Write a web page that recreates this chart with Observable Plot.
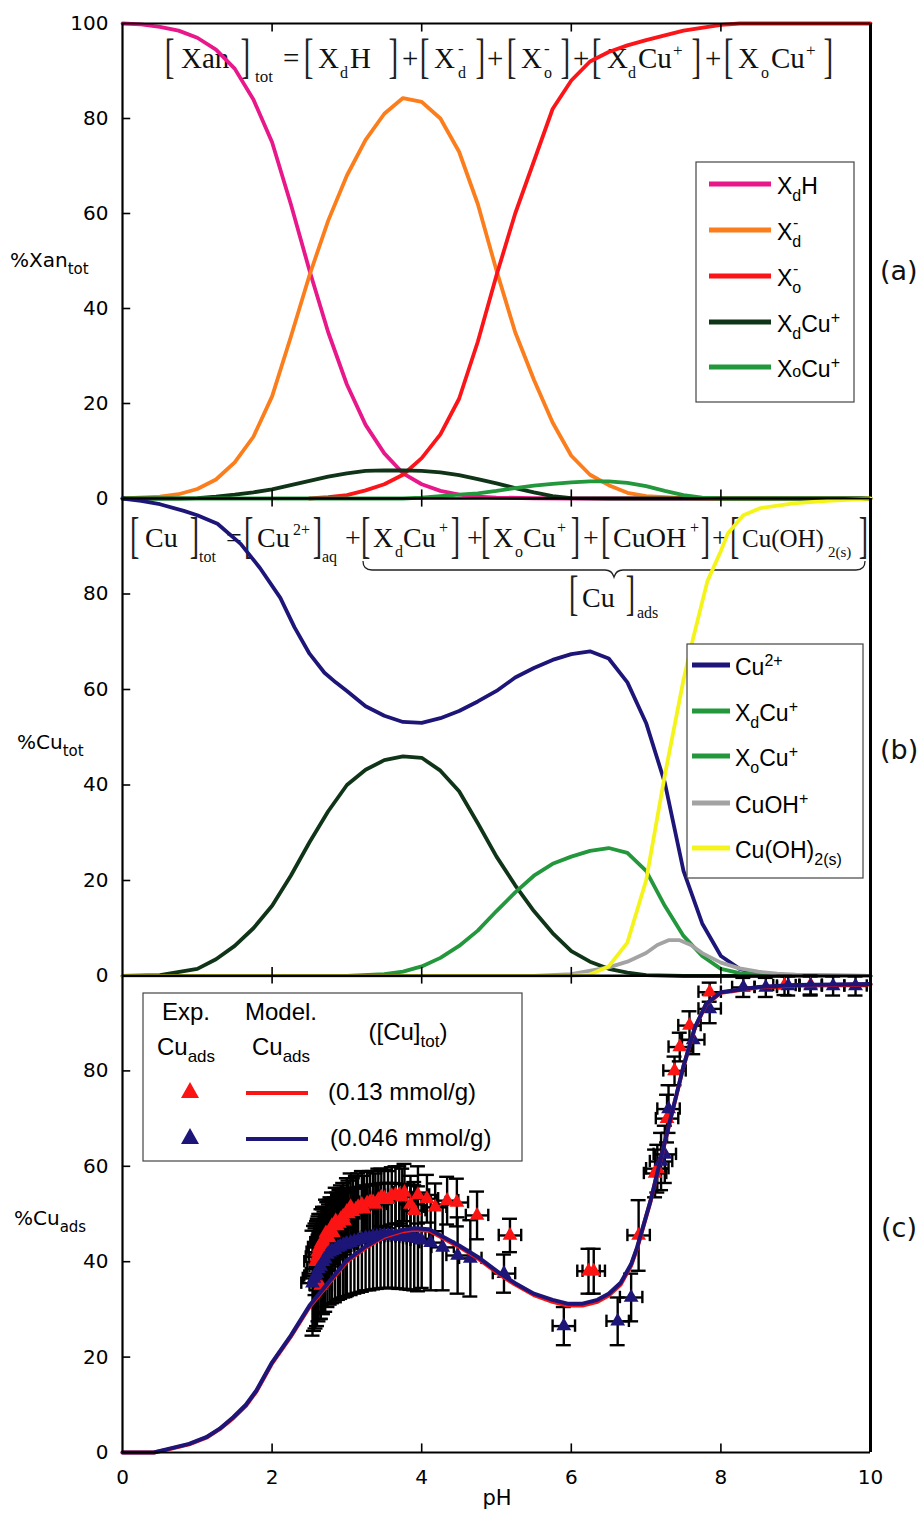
<!DOCTYPE html>
<html><head><meta charset="utf-8">
<script src="https://cdn.jsdelivr.net/npm/d3@7"></script>
<script src="https://cdn.jsdelivr.net/npm/@observablehq/plot@0.6"></script>
<style>
body{margin:0;background:#fff;}
#wrap{position:relative;width:922px;height:1517px;overflow:hidden;background:#fff;}
</style></head><body><div id="wrap"></div>
<script>
// ---------- DATA ----------
const xTickLabels = [0,2,4,6,8,10];
const xInnerTicks = [2,4,6,8];
const yTicksA = [0,20,40,60,80,100];
const yTicksBC = [0,20,40,60,80];
const yInnerTicks = [20,40,60,80];

// panel (a) : % of total xanthate
const aXdH = [[0,100],[0.25,99.8],[0.5,99.3],[0.75,98.5],[1,97],[1.25,94.5],[1.5,90.5],[1.75,84],[2,75],[2.25,62],[2.5,48],[2.75,35],[3,24],[3.25,15.5],[3.5,9.5],[3.75,5.3],[4,3],[4.25,1.6],[4.5,0.8],[4.75,0.4],[5,0.2],[5.5,0.05],[6,0],[10,0]];
const aXd = [[0,0],[0.5,0.4],[0.75,0.9],[1,2],[1.25,4],[1.5,7.6],[1.75,13],[2,21.5],[2.25,34],[2.5,47],[2.75,58.5],[3,68],[3.25,75.5],[3.5,81],[3.75,84.3],[4,83.5],[4.25,80],[4.5,73],[4.75,62],[5,48],[5.25,35],[5.5,25],[5.75,16],[6,9],[6.25,5],[6.5,2.8],[6.75,1.2],[7,0.5],[7.5,0.1],[8,0],[10,0]];
const aXo = [[2.5,0],[2.75,0.3],[3,0.7],[3.25,1.7],[3.5,3],[3.75,5],[4,8.5],[4.25,13.5],[4.5,21],[4.75,33],[5,47],[5.25,60],[5.5,71],[5.75,82],[6,88],[6.25,92],[6.5,94],[6.75,95.4],[7,96.5],[7.5,98.5],[8,99.7],[8.25,100],[10,100]];
const aXdCu = [[0,0],[0.75,0],[1,0.1],[1.25,0.4],[1.5,0.8],[1.75,1.3],[2,1.9],[2.25,2.8],[2.5,3.7],[2.75,4.6],[3,5.3],[3.25,5.8],[3.5,5.9],[3.75,5.9],[4,5.8],[4.25,5.5],[4.5,4.9],[4.75,4.1],[5,3.2],[5.25,2.2],[5.5,1.3],[5.75,0.5],[6,0.1],[6.5,0],[10,0]];
const aXoCu = [[0,0],[3.75,0],[4,0.2],[4.25,0.5],[4.5,0.8],[4.75,1.1],[5,1.6],[5.25,2.2],[5.5,2.7],[5.75,3.1],[6,3.4],[6.25,3.6],[6.5,3.6],[6.75,3.3],[7,2.6],[7.25,1.6],[7.5,0.7],[7.75,0.2],[8,0],[10,0]];

// panel (b) : % of total copper
const bCu = [[0,100],[0.25,99.5],[0.5,98.8],[0.82,97.4],[1,96.5],[1.27,94.7],[1.58,90.5],[1.84,85.4],[2.11,79.2],[2.3,73],[2.5,67.5],[2.7,63.5],[2.85,61.5],[3,59.7],[3.25,56.5],[3.5,54.5],[3.75,53.2],[4,53],[4.25,54],[4.5,55.5],[4.75,57.5],[5,59.7],[5.25,62.5],[5.5,64.5],[5.75,66.2],[6,67.4],[6.25,68],[6.5,66.5],[6.75,61.5],[7,53],[7.25,40.5],[7.5,22],[7.75,11],[8,4.2],[8.25,1.5],[8.5,0.5],[9,0.1],[10,0]];
const bXdCu = [[0,0],[0.5,0.2],[1,1.5],[1.25,3.5],[1.5,6.3],[1.75,10],[2,14.7],[2.25,21],[2.5,28],[2.75,34.5],[3,40],[3.25,43.2],[3.5,45.2],[3.75,46],[4,45.7],[4.25,43],[4.5,38.7],[4.75,32],[5,25],[5.25,19],[5.5,13.6],[5.75,9],[6,5.2],[6.25,3],[6.5,1.5],[6.75,0.7],[7,0.2],[7.5,0],[10,0]];
const bXoCu = [[0,0],[3,0],[3.5,0.4],[3.75,0.9],[4,2],[4.25,3.8],[4.5,6.3],[4.75,9.5],[5,13.6],[5.25,17.5],[5.5,21],[5.75,23.5],[6,25],[6.25,26.2],[6.5,26.8],[6.75,25.8],[7,22],[7.25,14.7],[7.5,8.4],[7.75,4.2],[8,1.5],[8.25,0.6],[8.5,0.3],[9,0],[10,0]];
const bCuOH = [[0,0],[5.5,0],[6,0.4],[6.5,1.8],[6.75,3],[7,4.8],[7.15,6.5],[7.3,7.5],[7.45,7.5],[7.6,6.5],[7.75,4.8],[8,2.8],[8.25,1.6],[8.5,0.9],[8.75,0.5],[9,0.3],[9.5,0.1],[10,0]];
const bCuOH2 = [[0,0],[6,0],[6.25,0.3],[6.5,2],[6.75,7],[7,20],[7.25,42],[7.5,62],[7.63,70.8],[7.82,82.7],[8,89],[8.09,92.6],[8.3,96.5],[8.53,98],[8.97,99],[9.42,99.5],[10,100]];

// panel (c) : % adsorbed copper, model curves
const cModelHigh = [[0,0],[0.42,0],[0.6,0.6],[0.89,1.7],[1.12,3.1],[1.3,4.9],[1.48,7.2],[1.65,9.8],[1.79,12.8],[2,18.7],[2.25,24.3],[2.5,30.5],[2.75,35.3],[3,40],[3.25,42.9],[3.5,45.2],[3.75,46.4],[3.9,46.7],[4.1,46.5],[4.5,43.1],[4.75,40.7],[5.05,37.2],[5.25,35.2],[5.5,33],[5.75,31.6],[5.95,30.8],[6.15,30.8],[6.35,31.6],[6.5,32.9],[6.66,35.2],[6.8,39.2],[6.88,42.8],[7.06,52.7],[7.19,61.1],[7.33,70.1],[7.5,80.9],[7.65,88.9],[7.8,93.9],[8,96.4],[8.5,97.5],[9,97.9],[10,98.1]];
const cModelLow = [[0,0],[0.42,0],[0.6,0.7],[0.89,1.8],[1.12,3.2],[1.3,5],[1.48,7.4],[1.65,10],[1.79,13],[2,18.9],[2.25,24.5],[2.5,30.8],[2.75,35.6],[3,40.3],[3.25,43.2],[3.5,45.5],[3.75,46.7],[3.9,47],[4.1,46.8],[4.5,43.4],[4.75,41],[5.05,37.5],[5.25,35.5],[5.5,33.3],[5.75,32],[5.95,31.2],[6.15,31.2],[6.35,32],[6.5,33.3],[6.66,35.6],[6.8,39.5],[6.88,43],[7.06,52.8],[7.19,61.2],[7.33,70.2],[7.5,81],[7.65,89],[7.8,94],[8,96.5],[8.5,97.6],[9,98],[10,98.2]];
// experimental points: [pH, %Cu_ads, error]
const cExpHigh = [[2.58,40,7],[2.60,41,7],[2.61,42,7],[2.63,43,7],[2.64,41.5,7],[2.65,35,7],[2.66,44,7],[2.68,44.5,7],[2.70,43.5,7],[2.72,46,7],[2.74,45.5,7],[2.76,45,7],[2.78,46.5,7],[2.80,47.5,7],[2.82,46,7],[2.85,48.5,7],[2.87,47.5,7],[2.90,48,7],[2.92,49,7],[2.95,49.5,7],[2.97,48.5,7],[3.00,50.5,7],[3.02,50,7],[3.05,51.5,7],[3.08,50.5,7],[3.12,51,7],[3.15,51.5,7],[3.20,52,7],[3.23,51,7],[3.27,52.3,6.5],[3.31,52.5,6.5],[3.35,52.5,6.5],[3.38,52,6.5],[3.42,53,6.5],[3.46,53.5,6],[3.50,53.3,6],[3.55,53,6],[3.60,53.8,6],[3.65,54,6],[3.70,54,6],[3.74,53.5,6],[3.77,54.5,6],[3.85,52,6],[3.90,50.7,6],[3.95,54,6],[4.07,53.2,5],[4.18,51.4,5],[4.34,52.8,5],[4.47,52.4,5],[4.74,49.7,5],[5.18,45.5,3.5],[6.23,38,4.7],[6.30,38,4.7],[6.90,45.5,7.4],[7.12,58.5,5],[7.15,59.5,5],[7.28,70,5],[7.38,80,3],[7.45,85,3],[7.58,89.5,3],[7.85,96.5,2],[8.85,97.9,2],[9.2,98,2]];
const cExpLow = [[2.54,35.5,11],[2.56,36.5,11],[2.58,37,11],[2.60,37.5,11],[2.62,38.5,11],[2.65,39,11],[2.68,40,11],[2.71,40.5,11],[2.74,41.5,11],[2.77,42,11],[2.80,42.3,11],[2.84,42.5,11],[2.88,43,11],[2.91,43.2,11],[2.95,43.5,11],[2.98,43.6,11],[3.00,43.8,11],[3.05,44,11],[3.10,44.3,11],[3.15,44.5,11],[3.20,44.7,11],[3.25,45,11],[3.30,45,11],[3.35,45.2,11],[3.40,45.3,11],[3.45,45.4,11],[3.50,45.5,11],[3.55,45.5,11],[3.60,45.5,11],[3.65,45.4,11],[3.70,45.3,11],[3.75,45.3,11],[3.80,45.2,11],[3.85,45.1,11],[3.90,45,11],[3.95,44.8,11],[4.00,44.5,10],[4.12,44,10],[4.28,43,9],[4.48,41.3,8],[4.65,40.7,8],[5.10,37.5,4],[5.90,26.5,4],[6.62,27.5,5],[6.80,32.5,5],[7.20,61,6],[7.25,62.5,6],[7.30,72,5],[7.63,86.5,3],[7.85,93,3],[8.3,97.5,2],[8.6,97.5,2],[8.9,97.8,2],[9.2,97.8,2],[9.5,97.8,2],[9.8,97.8,2]];

// ---------- STYLE ----------
const C = {
  XdH:"#e8178a", Xd:"#fb7d1c", Xo:"#fb1418", XdCu:"#0f3417", XoCu:"#23973b",
  Cu:"#1d1678", CuOH:"#a3a3a3", CuOH2:"#f4f41a", red:"#fb1414", navy:"#1d1678"
};
const PAD = 14;
const wrap = d3.select("#wrap");

const under = wrap.append("svg").attr("width",922).attr("height",1517)
  .style("position","absolute").style("left","0px").style("top","0px");

function line(data, color, w=3.8) {
  return Plot.line(data, {x: d=>d[0], y: d=>d[1], stroke: color, strokeWidth: w, strokeLinejoin:"round", strokeLinecap:"round"});
}
function frame(yLabels) {
  return [
    Plot.ruleX(xInnerTicks, {x: d=>d, y1: 0, y2: 1.8, stroke:"#000", strokeWidth:1.6}),
    Plot.ruleX(xInnerTicks, {x: d=>d, y1: 98.2, y2: 100, stroke:"#000", strokeWidth:1.6}),
    Plot.ruleY(yInnerTicks, {y: d=>d, x1: 0, x2: 0.11, stroke:"#000", strokeWidth:1.6}),
    Plot.axisY(yLabels, {anchor:"left", tickSize:0, tickPadding:14, label:null, fontSize:20}),
    Plot.ruleY([0,100], {stroke:"#000", strokeWidth:2}),
    Plot.ruleX([0], {stroke:"#000", strokeWidth:2.2}),
    Plot.ruleX([10], {stroke:"#000", strokeWidth:3})
  ];
}
function panel(top, bottom, marks, showX) {
  const mb = showX ? 1517 - bottom : PAD;
  const svg = Plot.plot({
    width: 922, height: (bottom - top) + PAD + mb,
    marginLeft: 122, marginRight: 52, marginTop: PAD, marginBottom: mb,
    x: {domain:[0,10], axis: null}, y: {domain:[0,100], axis: null},
    style: "background:transparent;overflow:visible;font-family:'DejaVu Sans',sans-serif;font-size:20px;color:#000;",
    marks
  });
  svg.style.position = "absolute";
  svg.style.left = "0px";
  svg.style.top = (top - PAD) + "px";
  svg.style.maxWidth = "none";
  wrap.node().appendChild(svg);
}
function errBars(data) {
  const o = {stroke:"#000", strokeWidth:2.4};
  return [
    Plot.ruleX(data, {x: d=>d[0], y1: d=>d[1]-d[2], y2: d=>d[1]+d[2], ...o}),
    Plot.ruleY(data, {y: d=>d[1]+d[2], x1: d=>d[0]-0.1, x2: d=>d[0]+0.1, ...o}),
    Plot.ruleY(data, {y: d=>d[1]-d[2], x1: d=>d[0]-0.1, x2: d=>d[0]+0.1, ...o}),
    Plot.ruleY(data, {y: d=>d[1], x1: d=>d[0]-0.15, x2: d=>d[0]+0.15, ...o}),
    Plot.ruleX(data, {x: d=>d[0]-0.15, y1: d=>d[1]-1.3, y2: d=>d[1]+1.3, ...o}),
    Plot.ruleX(data, {x: d=>d[0]+0.15, y1: d=>d[1]-1.3, y2: d=>d[1]+1.3, ...o})
  ];
}

// panel (a)
panel(23, 498, [
  line(aXdH, C.XdH), line(aXd, C.Xd), line(aXo, C.Xo), line(aXdCu, C.XdCu), line(aXoCu, C.XoCu),
  ...frame(yTicksA)
], false);
// panel (b)
panel(497.5, 975, [
  line(bCu, C.Cu), line(bXdCu, C.XdCu), line(bXoCu, C.XoCu), line(bCuOH, C.CuOH), line(bCuOH2, C.CuOH2),
  ...frame(yTicksBC)
], false);
// panel (c)
panel(975, 1452, [
  ...errBars(cExpHigh),
  ...errBars(cExpLow),
  Plot.dot(cExpHigh, {x: d=>d[0], y: d=>d[1], symbol:"triangle", r:5.5, fill:C.red, stroke:"none"}),
  Plot.dot(cExpLow, {x: d=>d[0], y: d=>d[1], symbol:"triangle", r:5.5, fill:C.navy, stroke:"none"}),
  line(cModelHigh, C.red, 4), line(cModelLow, C.navy, 4),
  ...frame(yTicksBC),
  Plot.axisX(xTickLabels, {anchor:"bottom", tickSize:0, tickPadding:17, label:null, fontSize:20})
], true);

const over = wrap.append("svg").attr("width",922).attr("height",1517)
  .style("position","absolute").style("left","0px").style("top","0px");

const SERIF = "'Liberation Serif','Times New Roman',serif";
const SANS = "'Liberation Sans',Arial,sans-serif";
const DV = "'DejaVu Sans',sans-serif";

function T(g, x, y, s, size, fam=SERIF) {
  return g.append("text").attr("x",x).attr("y",y).attr("font-family",fam).attr("font-size",size).attr("fill","#111").text(s);
}
function B(g, ch, strokeX, cy, h, size) {
  const off = ch === "[" ? 0.11*size : 0.22*size;
  const x = strokeX - off;
  const s = h / (0.818*size);
  g.append("text").attr("x",x).attr("y",cy + 0.253*size).attr("font-family",SERIF).attr("font-size",size).attr("fill","#222")
    .attr("transform",`translate(0,${cy}) scale(1,${s}) translate(0,${-cy})`).text(ch);
}
function rich(g, x, y, parts, o) {
  const size = o.size, ss = o.ss || Math.round(size*0.68);
  const t = g.append("text").attr("x",x).attr("y",y).attr("font-family",o.family).attr("font-size",size).attr("fill","#000");
  if (o.anchor) t.attr("text-anchor", o.anchor);
  let cur = 0;
  for (const p of parts) {
    const [s, m] = typeof p === "string" ? [p, "n"] : p;
    const shift = m === "b" ? (o.sub ?? size*0.3) : m === "p" ? -(o.sup ?? size*0.38) : 0;
    const ts = t.append("tspan").attr("dy", shift - cur).text(s);
    if (m !== "n") ts.attr("font-size", ss);
    cur = shift;
  }
  return t;
}

// ---- equation (a) ----
{
  const g = under, y = 68, S = 29, cy = 60, h = 40;
  B(g,"[",168,cy,h,S); T(g,181,y,"Xan",S); B(g,"]",247,cy,h,S); T(g,255,82,"tot",17);
  T(g,283,y,"=",S);
  B(g,"[",307,cy,h,S); T(g,318,y,"X",S); T(g,340,78,"d",16); T(g,350,y,"H",S); B(g,"]",395,cy,h,S);
  T(g,402,y,"+",S);
  B(g,"[",423,cy,h,S); T(g,434,y,"X",S); T(g,458,54,"-",17); T(g,458,78,"d",16); B(g,"]",482,cy,h,S);
  T(g,487,y,"+",S);
  B(g,"[",510,cy,h,S); T(g,521,y,"X",S); T(g,544,54,"-",17); T(g,544,78,"o",16); B(g,"]",567,cy,h,S);
  T(g,573,y,"+",S);
  B(g,"[",595,cy,h,S); T(g,607,y,"X",S); T(g,628,78,"d",16); T(g,638,y,"Cu",S); T(g,673,56,"+",17); B(g,"]",698,cy,h,S);
  T(g,705,y,"+",S);
  B(g,"[",727,cy,h,S); T(g,738,y,"X",S); T(g,761,78,"o",16); T(g,771,y,"Cu",S); T(g,806,56,"+",17); B(g,"]",830,cy,h,S);
}
// ---- equation (b) ----
{
  const g = under, y = 547, S = 28, cy = 539, h = 42;
  B(g,"[",133,cy,h,S); T(g,145,y,"Cu",S); B(g,"]",196,cy,h,S); T(g,199,562,"tot",16);
  T(g,226,y,"=",S);
  B(g,"[",247,cy,h,S); T(g,257,y,"Cu",S); T(g,293,535,"2+",16); B(g,"]",319,cy,h,S); T(g,322,562,"aq",16);
  T(g,345,y,"+",S);
  B(g,"[",364,cy,h,S); T(g,373,y,"X",S); T(g,395,557,"d",16); T(g,403,y,"Cu",S); T(g,439,533,"+",16); B(g,"]",457,cy,h,S);
  T(g,467,y,"+",S);
  B(g,"[",484,cy,h,S); T(g,493,y,"X",S); T(g,515,557,"o",16); T(g,523,y,"Cu",S); T(g,557,533,"+",16); B(g,"]",577,cy,h,S);
  T(g,583,y,"+",S);
  B(g,"[",604,cy,h,S); T(g,613,y,"CuOH",S); T(g,690,533,"+",16); B(g,"]",707,cy,h,S);
  T(g,712,y,"+",S);
  B(g,"[",733,cy,h,S);
  T(g,742,y,"Cu(OH)",25);
  T(g,828,557,"2(s)",15); B(g,"]",865,cy,h,S);
  g.append("path").attr("d","M363,561 Q363,570 372,570 L605,570 Q612,570 614,577 Q616,570 623,570 L856,570 Q865,570 865,561")
    .attr("fill","none").attr("stroke","#222").attr("stroke-width",1.3);
  B(g,"[",572,597,40,S); T(g,582,607,"Cu",S); B(g,"]",632,597,40,S); T(g,637,618,"ads",16);
}

// ---- legend (a) ----
{
  const g = over;
  g.append("rect").attr("x",696).attr("y",162).attr("width",158).attr("height",240).attr("fill","#fff").attr("stroke","#444").attr("stroke-width",1.2);
  const ys = [184,230,276,322,367];
  const cols = [C.XdH, C.Xd, C.Xo, C.XdCu, C.XoCu];
  ys.forEach((y,i)=> g.append("line").attr("x1",709).attr("x2",771).attr("y1",y).attr("y2",y).attr("stroke",cols[i]).attr("stroke-width",5));
  const o = {family:SANS, size:23, ss:16, sub:7, sup:9};
  rich(g,777,ys[0]+10,["X",["d","b"],"H"],o);
  rich(g,777,ys[1]+10,["X",["d","b"]],o); T(g,793,ys[1]-2,"-",16,SANS);
  rich(g,777,ys[2]+10,["X",["o","b"]],o); T(g,793,ys[2]-2,"-",16,SANS);
  rich(g,777,ys[3]+10,["X",["d","b"],"Cu",["+","p"]],o);
  rich(g,777,ys[4]+10,["X",["o","s"],"Cu",["+","p"]],o);
}
// ---- legend (b) ----
{
  const g = over;
  g.append("rect").attr("x",687).attr("y",644).attr("width",176).attr("height",234).attr("fill","#fff").attr("stroke","#444").attr("stroke-width",1.2);
  const ys = [665,711,756,803,848];
  const cols = [C.Cu, C.XoCu, C.XoCu, C.CuOH, C.CuOH2];
  ys.forEach((y,i)=> g.append("line").attr("x1",692).attr("x2",730).attr("y1",y).attr("y2",y).attr("stroke",cols[i]).attr("stroke-width",5));
  const o = {family:SANS, size:23, ss:16, sub:7, sup:9};
  rich(g,735,ys[0]+10,["Cu",["2+","p"]],o);
  rich(g,735,ys[1]+10,["X",["d","b"],"Cu",["+","p"]],o);
  rich(g,735,ys[2]+10,["X",["o","b"],"Cu",["+","p"]],o);
  rich(g,735,ys[3]+10,["CuOH",["+","p"]],o);
  rich(g,735,ys[4]+10,["Cu(OH)",["2(s)","b"]],o);
}
// ---- legend (c) ----
{
  const g = over;
  g.append("rect").attr("x",143).attr("y",993).attr("width",379).attr("height",168).attr("fill","#fff").attr("stroke","#444").attr("stroke-width",1.2);
  const o = {family:SANS, size:24, ss:17, sub:7, sup:9, anchor:"middle"};
  rich(g,186,1020,["Exp."],o);
  rich(g,186,1055,["Cu",["ads","b"]],o);
  rich(g,281,1020,["Model."],o);
  rich(g,281,1055,["Cu",["ads","b"]],o);
  rich(g,408,1040,["([Cu]",["tot","b"],")"],o);
  const tri = (cx,cy,col)=> g.append("path").attr("d",`M${cx},${cy-9} L${cx+9},${cy+7} L${cx-9},${cy+7} Z`).attr("fill",col);
  tri(190,1091,C.red); tri(190,1137,C.navy);
  g.append("line").attr("x1",246).attr("x2",308).attr("y1",1093).attr("y2",1093).attr("stroke",C.red).attr("stroke-width",4);
  g.append("line").attr("x1",246).attr("x2",308).attr("y1",1139).attr("y2",1139).attr("stroke",C.navy).attr("stroke-width",4);
  rich(g,328,1100,["(0.13 mmol/g)"],{family:SANS,size:24});
  rich(g,330,1146,["(0.046 mmol/g)"],{family:SANS,size:24});
}
// ---- axis titles and panel labels ----
{
  const g = over;
  const o = {family:DV, size:20, ss:15, sub:7};
  rich(g,10,267,["%Xan",["tot","b"]],o);
  rich(g,17,749,["%Cu",["tot","b"]],o);
  rich(g,14,1225,["%Cu",["ads","b"]],o);
  T(g,880,280,"(a)",27,DV);
  T(g,880,759,"(b)",27,DV);
  T(g,881,1237,"(c)",27,DV);
  rich(g,497,1505,["pH"],{family:DV,size:21,anchor:"middle"});
}
</script></body></html>
